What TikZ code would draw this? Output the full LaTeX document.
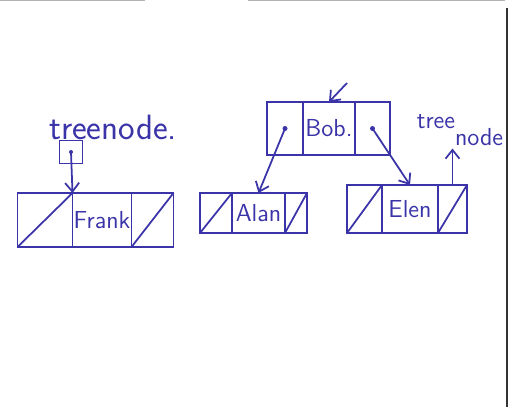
\documentclass[tikz,border=0pt]{standalone}
\usepackage{tikz}
\usetikzlibrary{matrix,arrows.meta}
\definecolor{ink}{RGB}{58,52,168}
\tikzstyle{lblock} = [matrix of nodes,ampersand replacement=\&,inner sep=0pt,nodes in empty cells,nodes={
    outer sep=0pt,inner sep=0pt,anchor=center,text centered,font=\sffamily\fontsize{14}{16}\selectfont
}]
\tikzset{cells/.style n args={4}{
    column 1/.style={nodes={minimum width=#1}},
    column 2/.style={nodes={minimum width=#2}},
    column 3/.style={nodes={minimum width=#3}},
    nodes={minimum height=#4}
}}
\tikzstyle{handtext} = [font=\sffamily\fontsize{20}{22}\selectfont,inner sep=1pt]
\newcommand{\lblocktext}[1]{
    {} \& {#1} \& {} \\
}
\newcommand{\lblockoutline}[1]{
    \draw (#1-1-1.south west) rectangle (#1-1-3.north east);
    \draw (#1-1-2.north west) -- (#1-1-2.south west);
    \draw (#1-1-2.north east) -- (#1-1-2.south east);
}
\newcommand{\lblocknull}[1]{
    \draw (#1-1-1.south west) -- (#1-1-1.north east);
    \draw (#1-1-3.south west) -- (#1-1-3.north east);
}
\begin{document}
\begin{tikzpicture}[x=0.02cm,y=-0.02cm,color=ink,line width=1pt,>={Straight Barb[length=5pt,width=8pt]}]
	\useasboundingbox (0,0) rectangle (512,407);
	% scan edges
	\draw[gray!60,line width=1pt] (0,0.5) -- (145,0.5) (248,0.5) -- (505,0.5);
	\draw[black!80,line width=1.2pt] (507,8) -- (507,407);
	
	\node(frank) at (95.5,220) [lblock,cells={1.1cm}{1.18cm}{0.84cm}{1.08cm}] {\lblocktext{Frank}};
	\lblockoutline{frank};
	\lblocknull{frank};
	
	\node(bob) at (328.5,128.5) [lblock,cells={0.72cm}{1.04cm}{0.7cm}{1.06cm}] {\lblocktext{Bob.}};
	\lblockoutline{bob};
	
	\node(alan) at (253.5,213) [lblock,cells={0.64cm}{1.06cm}{0.44cm}{0.8cm}] {\lblocktext{Alan}};
	\lblockoutline{alan};
	\lblocknull{alan};
	
	\node(elen) at (407,209) [lblock,cells={0.7cm}{1.12cm}{0.58cm}{0.96cm}] {\lblocktext{Elen}};
	\lblockoutline{elen};
	\lblocknull{elen};
	
	% labels and root pointer
	\node(tnlabel) at (113,127) [handtext] {treenode.};
	\node(ptr) at (71,152) [draw,line width=1pt,minimum size=0.46cm,inner sep=0pt] {};
	\fill (ptr.center) circle (2);
	\draw[->] (ptr.center) -- (frank-1-1.north east);
	
	\node(tnlabel2) at (460,130) [handtext,font=\sffamily\fontsize{14}{16}\selectfont] {tree\raisebox{-1.6ex}{node}};
	\draw[->] (elen-1-3.north) -- (elen-1-3.north |- tnlabel2.south);
	
	% child pointers
	\coordinate(bobin) at (347,83);
	\draw[->] (bobin) -- (bob-1-2.north);
	\fill (bob-1-1.center) circle (2.5);
	\fill (bob-1-3.center) circle (2.5);
	\draw[->] (bob-1-1.center) -- (alan-1-2.north);
	\draw[->] (bob-1-3.center) -- (elen-1-2.north);
\end{tikzpicture}
\end{document}
